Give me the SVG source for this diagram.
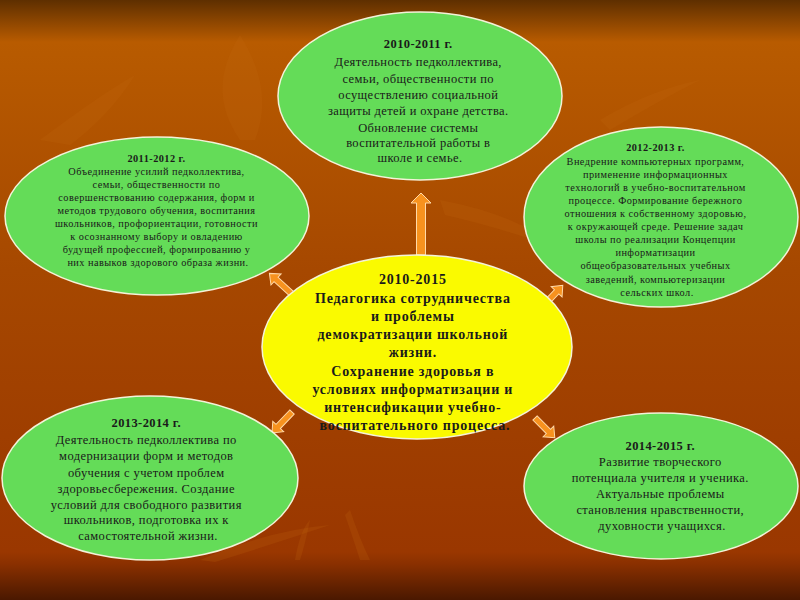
<svg xmlns="http://www.w3.org/2000/svg" width="800" height="600" viewBox="0 0 800 600">
<defs>
<linearGradient id="bg" x1="0" y1="0" x2="0" y2="1">
<stop offset="0" stop-color="#5e2f00"/>
<stop offset="0.07" stop-color="#b85b00"/>
<stop offset="0.45" stop-color="#a64800"/>
<stop offset="0.92" stop-color="#9a3700"/>
<stop offset="0.94" stop-color="#8a3000"/>
<stop offset="1" stop-color="#4a1800"/>
</linearGradient>
<style>
.g{fill:#64dc58;stroke:#f4f2d8;stroke-width:1.5}
.y{fill:#fafa00;stroke:#f4f2d8;stroke-width:1.5}
.t{font-family:"Liberation Serif","Times New Roman",serif;fill:#1a1a1a;text-anchor:middle}
.s{font-size:12.5px;letter-spacing:0.4px}
.xs{font-size:10.3px;letter-spacing:0.45px}
.c{font-size:14px;font-weight:bold;letter-spacing:0.8px}
.b{font-weight:bold}
.a{fill:#f7921e;stroke:#ffd9a8;stroke-width:1}
.leaf{fill:#c56a10;opacity:0.2}
</style>
</defs>
<rect width="800" height="600" fill="url(#bg)"/>
<g id="background-leaves">
<path class="leaf" d="M240 140 Q205 90 240 35 Q275 90 255 140 Z"/>
<path class="leaf" d="M40 140 Q100 95 135 75 Q110 115 70 145 Z"/>
<path class="leaf" d="M200 560 Q270 530 330 525 Q270 545 215 562 Z"/>
<path class="leaf" d="M295 560 Q300 530 310 520 Q305 545 300 560 Z"/>
<path class="leaf" d="M350 510 Q360 540 370 560 L360 560 Q352 535 345 515 Z"/>
<path class="leaf" d="M600 120 Q650 90 700 80 Q660 100 610 130 Z"/>
<path class="leaf" d="M440 200 Q520 215 560 250 Q510 230 445 215 Z"/>
</g>
<g id="connectors">
<polygon class="a" transform="translate(421,255) rotate(-90)" points="0,-4.5 52,-4.5 52,-10 62,0 52,10 52,4.5 0,4.5"/>
<polygon class="a" transform="translate(293,295) rotate(-137.5)" points="0,-3 23,-3 23,-7.5 32,0 23,7.5 23,3 0,3"/>
<polygon class="a" transform="translate(547,302) rotate(-46.7)" points="0,-3 14,-3 14,-7.5 23,0 14,7.5 14,3 0,3"/>
<polygon class="a" transform="translate(292,412) rotate(133.6)" points="0,-3 20,-3 20,-7.5 29,0 20,7.5 20,3 0,3"/>
<polygon class="a" transform="translate(535,418) rotate(45)" points="0,-3 19,-3 19,-7.5 28,0 19,7.5 19,3 0,3"/>
</g>
<g id="node-2010-2011">
<ellipse class="g" cx="420" cy="96" rx="142" ry="84"/>
<text class="t s" x="420">
<tspan class="b" x="420" y="48">2010-2011 г.</tspan>
<tspan x="420" y="66">Деятельность педколлектива,</tspan>
<tspan x="420" y="83">семьи, общественности по</tspan>
<tspan x="420" y="99">осуществлению социальной</tspan>
<tspan x="420" y="115">защиты детей и охране детства.</tspan>
<tspan x="420" y="132">Обновление системы</tspan>
<tspan x="420" y="147">воспитательной работы в</tspan>
<tspan x="420" y="162">школе и семье.</tspan>
</text>
</g>
<g id="node-2011-2012">
<ellipse class="g" cx="157" cy="216" rx="152" ry="79"/>
<text class="t xs">
<tspan class="b" x="158" y="162">2011-2012 г.</tspan>
<tspan x="158" y="175">Объединение усилий педколлектива,</tspan>
<tspan x="158" y="188">семьи, общественности по</tspan>
<tspan x="158" y="201">совершенствованию содержания, форм и</tspan>
<tspan x="158" y="214">методов трудового обучения, воспитания</tspan>
<tspan x="158" y="227">школьников, профориентации, готовности</tspan>
<tspan x="158" y="240">к осознанному выбору и овладению</tspan>
<tspan x="158" y="253">будущей профессией, формированию у</tspan>
<tspan x="158" y="266">них навыков здорового образа жизни.</tspan>
</text>
</g>
<g id="node-2012-2013">
<ellipse class="g" cx="661" cy="217" rx="137" ry="90"/>
<text class="t xs">
<tspan class="b" x="657" y="151">2012-2013 г.</tspan>
<tspan x="657" y="165">Внедрение компьютерных программ,</tspan>
<tspan x="657" y="178">применение информационных</tspan>
<tspan x="657" y="191">технологий в учебно-воспитательном</tspan>
<tspan x="657" y="204">процессе. Формирование бережного</tspan>
<tspan x="657" y="217">отношения к собственному здоровью,</tspan>
<tspan x="657" y="230">к окружающей среде. Решение задач</tspan>
<tspan x="657" y="243">школы по реализации Концепции</tspan>
<tspan x="657" y="256">информатизации</tspan>
<tspan x="657" y="269">общеобразовательных учебных</tspan>
<tspan x="657" y="283">заведений, компьютеризации</tspan>
<tspan x="657" y="296">сельских школ.</tspan>
</text>
</g>
<g id="node-center">
<ellipse class="y" cx="417" cy="347" rx="155" ry="92"/>
<text class="t c">
<tspan x="415" y="284">2010-2015</tspan>
<tspan x="415" y="303">Педагогика сотрудничества</tspan>
<tspan x="415" y="321">и проблемы</tspan>
<tspan x="415" y="339">демократизации школьной</tspan>
<tspan x="415" y="357">жизни.</tspan>
<tspan x="415" y="376">Сохранение здоровья в</tspan>
<tspan x="415" y="394">условиях информатизации и</tspan>
<tspan x="415" y="412">интенсификации учебно-</tspan>
<tspan x="415" y="430">воспитательного процесса.</tspan>
</text>
</g>
<g id="node-2013-2014">
<ellipse class="g" cx="150" cy="478" rx="148" ry="82"/>
<text class="t s">
<tspan class="b" x="148" y="427">2013-2014 г.</tspan>
<tspan x="148" y="444">Деятельность педколлектива по</tspan>
<tspan x="148" y="460">модернизации форм и методов</tspan>
<tspan x="148" y="477">обучения с учетом проблем</tspan>
<tspan x="148" y="493">здоровьесбережения. Создание</tspan>
<tspan x="148" y="509">условий для свободного развития</tspan>
<tspan x="148" y="524">школьников, подготовка их к</tspan>
<tspan x="148" y="540">самостоятельной жизни.</tspan>
</text>
</g>
<g id="node-2014-2015">
<ellipse class="g" cx="661" cy="486" rx="137" ry="73"/>
<text class="t s">
<tspan class="b" x="662" y="450">2014-2015 г.</tspan>
<tspan x="662" y="466">Развитие творческого</tspan>
<tspan x="662" y="482">потенциала учителя и ученика.</tspan>
<tspan x="662" y="498">Актуальные проблемы</tspan>
<tspan x="662" y="514">становления нравственности,</tspan>
<tspan x="662" y="530">духовности учащихся.</tspan>
</text>
</g>
</svg>
